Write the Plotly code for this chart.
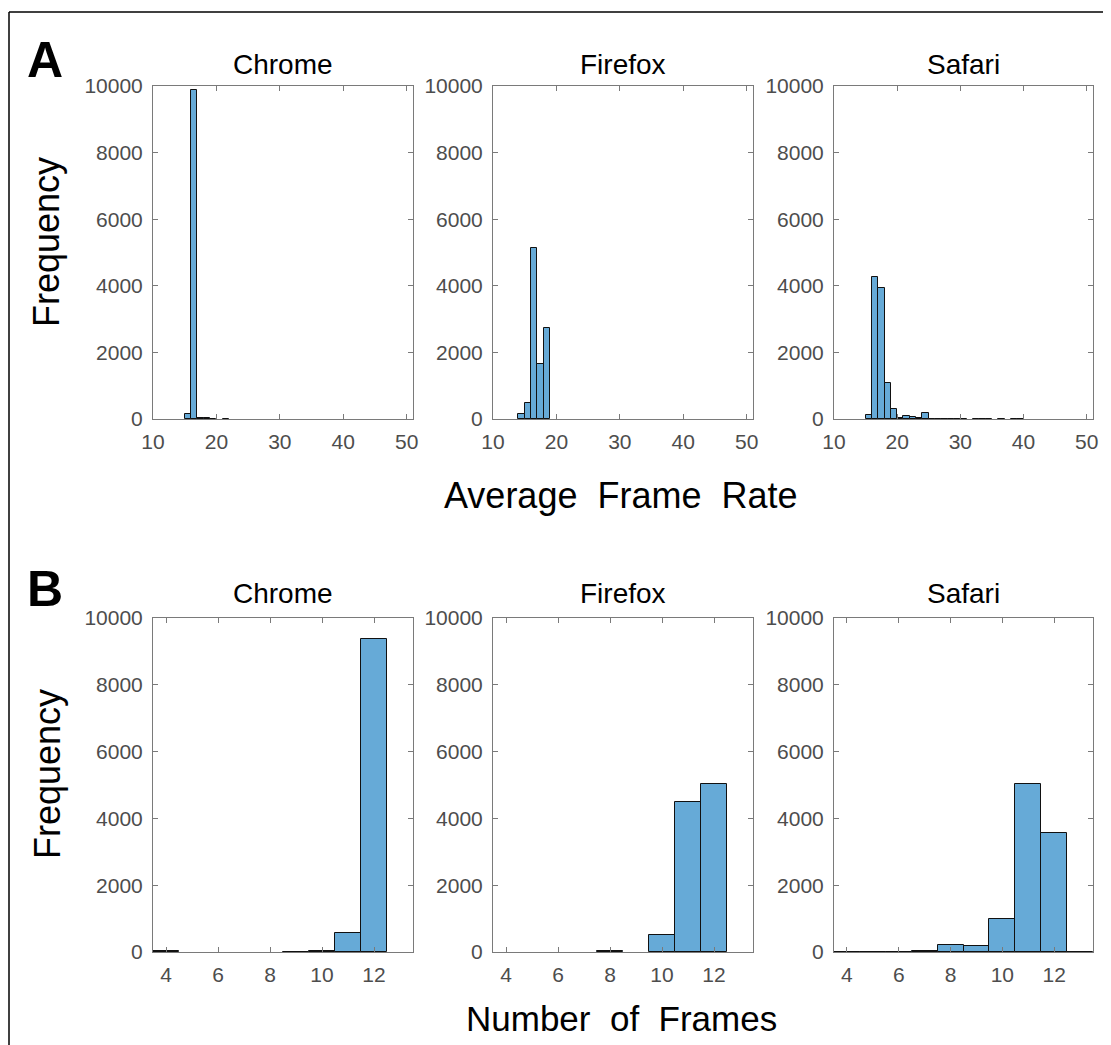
import plotly.graph_objects as go

# ---------------- data ----------------
browsers = ["Chrome", "Firefox", "Safari"]

# Panel A: average frame rate histograms (bin left edges, bin width 1)
rate_chrome_edges = [15, 16, 17, 18, 19, 21]
rate_chrome_counts = [160, 9870, 20, 20, 15, 15]

rate_firefox_edges = [14, 15, 16, 17, 18]
rate_firefox_counts = [140, 480, 5130, 1640, 2740]

rate_safari_edges = [15, 16, 17, 18, 19, 20, 21, 22, 23, 24, 25, 26, 27, 28, 29, 30,
                     32, 33, 34, 36, 38, 39]
rate_safari_counts = [130, 4250, 3930, 1080, 290, 30, 80, 50, 20, 190, 15, 12, 12, 12, 12, 10,
                      15, 15, 15, 15, 15, 15]

# Panel B: number of frames histograms (bin centres, bin width 1)
frames_chrome_bins = [4, 9, 10, 11, 12]
frames_chrome_counts = [20, 10, 20, 580, 9380]

frames_firefox_bins = [8, 10, 11, 12]
frames_firefox_counts = [30, 520, 4480, 5030]

frames_safari_bins = [4, 5, 6, 7, 8, 9, 10, 11, 12, 13]
frames_safari_counts = [10, 10, 10, 40, 200, 170, 1000, 5030, 3550, 15]

y_ticks = [0, 2000, 4000, 6000, 8000, 10000]
y_tick_labels = ["0", "2000", "4000", "6000", "8000", "10000"]
rate_ticks = [10, 20, 30, 40, 50]
frames_ticks = [4, 6, 8, 10, 12]

# ---------------- layout geometry ----------------
W, H = 1111, 1045
PAGE_OFFSET = 8  # page body margin in the browser
FILL = "#66AAD7"
AX = "#7a7a7a"
TICKC = "#4d4d4d"
FONT = "Liberation Sans, Arial, sans-serif"

col_px = [(153, 413), (493, 753), (834, 1093)]
row_px = [(86, 419), (618, 952)]


def px_x(p):
    return (p - PAGE_OFFSET) / W


def px_y(p):
    return 1 - (p - PAGE_OFFSET) / H


fig = go.Figure()

rate_data = [
    (rate_chrome_edges, rate_chrome_counts),
    (rate_firefox_edges, rate_firefox_counts),
    (rate_safari_edges, rate_safari_counts),
]
frames_data = [
    (frames_chrome_bins, frames_chrome_counts),
    (frames_firefox_bins, frames_firefox_counts),
    (frames_safari_bins, frames_safari_counts),
]

layout_axes = {}
idx = 0
for r in range(2):
    for c in range(3):
        idx += 1
        xa = "x" if idx == 1 else f"x{idx}"
        ya = "y" if idx == 1 else f"y{idx}"
        if r == 0:
            edges, counts = rate_data[c]
            xs = [e + 0.5 for e in edges]
            xrange = [10, 51]
            xticks = rate_ticks
        else:
            xs, counts = frames_data[c]
            xrange = [3.5, 13.5]
            xticks = frames_ticks
        fig.add_trace(go.Bar(
            x=xs, y=counts, width=1, xaxis=xa, yaxis=ya,
            marker=dict(color=FILL, line=dict(color="#111111", width=1)),
            showlegend=False, hoverinfo="x+y",
        ))
        common = dict(
            showline=True, linecolor=AX, linewidth=1, mirror="ticks",
            ticks="inside", ticklen=5, tickcolor=AX, tickwidth=1,
            showgrid=False, zeroline=False, automargin=False,
            tickfont=dict(family=FONT, size=21, color=TICKC),
        )
        x0, x1 = col_px[c]
        y0, y1 = row_px[r]
        layout_axes["xaxis" if idx == 1 else f"xaxis{idx}"] = dict(
            common, domain=[px_x(x0), px_x(x1)], anchor=ya, range=xrange,
            tickvals=xticks, ticktext=[str(t) for t in xticks], ticklabelstandoff=4,
        )
        layout_axes["yaxis" if idx == 1 else f"yaxis{idx}"] = dict(
            common, domain=[px_y(y1), px_y(y0)], anchor=xa, range=[0, 10000],
            tickvals=y_ticks, ticktext=y_tick_labels, ticklabelstandoff=5,
        )

fig.update_layout(**layout_axes)


def ann(text, xp, yp, size, angle=0):
    return dict(text=text, x=px_x(xp), y=px_y(yp), xref="paper", yref="paper",
                showarrow=False, xanchor="center", yanchor="middle", textangle=angle,
                font=dict(family=FONT, size=size, color="black"))


annotations = []
for r, ytitle in enumerate([64, 593]):
    for c, name in enumerate(browsers):
        x0, x1 = col_px[c]
        annotations.append(ann(name, (x0 + x1) / 2, ytitle, 28))

annotations.append(ann("Average\u00a0 Frame\u00a0 Rate", 621, 495, 36))
annotations.append(ann("Number\u00a0 of\u00a0 Frames", 621, 1018, 35))
annotations.append(ann("Frequency", 47, 242, 36, -90))
annotations.append(ann("Frequency", 47, 774, 36, -90))
annotations.append(ann("<b>A</b>", 45, 60, 50))
annotations.append(ann("<b>B</b>", 45, 589, 50))

shapes = [
    dict(type="line", xref="paper", yref="paper", x0=px_x(9), x1=1.0, y0=px_y(12), y1=px_y(12),
         line=dict(color="black", width=1.5)),
    dict(type="line", xref="paper", yref="paper", x0=px_x(9), x1=px_x(9), y0=px_y(12), y1=0,
         line=dict(color="black", width=1.5)),
]

fig.update_layout(
    width=W, height=H,
    margin=dict(l=0, r=0, t=0, b=0, pad=0, autoexpand=False),
    paper_bgcolor="white", plot_bgcolor="white",
    annotations=annotations, shapes=shapes, bargap=0,
)

fig.write_html("out.html")
